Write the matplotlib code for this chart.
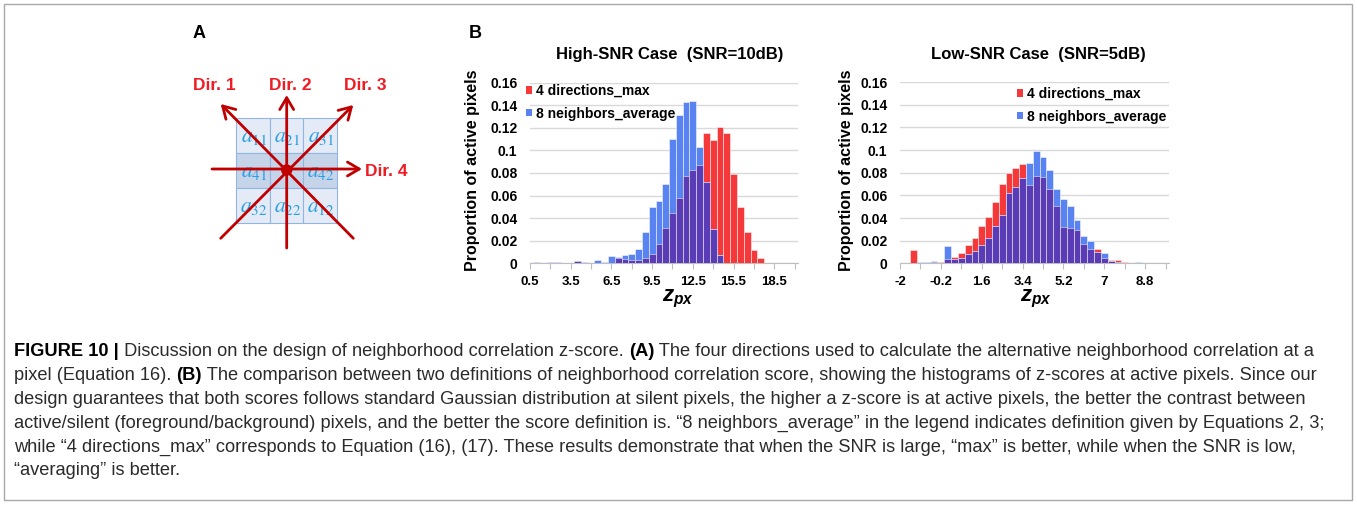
import numpy as np
import matplotlib
matplotlib.use("Agg")
import matplotlib.pyplot as plt
import matplotlib.font_manager as fm
from matplotlib.patches import Patch, Rectangle, FancyArrowPatch, Circle

# ======== data ========
# 40 histogram categories per panel, one value per category
hi_red = [0, 0, 0, 0, 0, 0, 0, 0.002, 0, 0,
          0, 0, 0, 0.0045, 0.0035, 0.003, 0.003, 0.0045, 0.008, 0.017,
          0.031, 0.045, 0.058, 0.077, 0.083, 0.087, 0.115, 0.109, 0.121, 0.115,
          0.079, 0.050, 0.028, 0.012, 0.0045, 0, 0, 0, 0, 0]
hi_blue = [0, 0.001, 0, 0.0008, 0.0008, 0, 0, 0.002, 0.001, 0,
           0.003, 0.0015, 0.0068, 0.0053, 0.0076, 0.008, 0.013, 0.028, 0.050, 0.055,
           0.070, 0.110, 0.131, 0.143, 0.144, 0.103, 0.072, 0.030, 0.0072, 0,
           0, 0, 0, 0, 0, 0, 0, 0, 0, 0]
lo_red = [0, 0, 0.0118, 0.0005, 0.0005, 0.0015, 0.001, 0.004, 0.006, 0.0095,
          0.016, 0.022, 0.033, 0.041, 0.054, 0.070, 0.080, 0.084, 0.088, 0.069,
          0.077, 0.076, 0.066, 0.051, 0.0325, 0.031, 0.029, 0.0174, 0.0127, 0.0124,
          0.0047, 0.003, 0.0027, 0.001, 0, 0, 0, 0, 0, 0]
lo_blue = [0, 0, 0, 0.001, 0.001, 0.002, 0, 0.015, 0.004, 0.005,
           0.008, 0.011, 0.016, 0.022, 0.033, 0.043, 0.062, 0.067, 0.075, 0.089,
           0.0995, 0.094, 0.082, 0.066, 0.057, 0.051, 0.038, 0.024, 0.020, 0.010,
           0.0095, 0.002, 0.0015, 0, 0, 0.001, 0, 0, 0, 0]

hi_xlabels = ["0.5", "3.5", "6.5", "9.5", "12.5", "15.5", "18.5"]
lo_xlabels = ["-2", "-0.2", "1.6", "3.4", "5.2", "7", "8.8"]
y_ticks = [0, 0.02, 0.04, 0.06, 0.08, 0.10, 0.12, 0.14, 0.16]
y_ticklabels = ["0", "0.02", "0.04", "0.06", "0.08", "0.1", "0.12", "0.14", "0.16"]
series_names = ["4 directions_max", "8 neighbors_average"]
titles = ["High-SNR Case  (SNR=10dB)", "Low-SNR Case  (SNR=5dB)"]
y_title = "Proportion of active pixels"

cell_labels = [[r"$a_{11}$", r"$a_{21}$", r"$a_{31}$"],
               [r"$a_{41}$", "", r"$a_{42}$"],
               [r"$a_{32}$", r"$a_{22}$", r"$a_{12}$"]]
dir_labels = ["Dir. 1", "Dir. 2", "Dir. 3", "Dir. 4"]

caption = [
    [("FIGURE 10 |", "bold"), (" Discussion on the design of neighborhood correlation z-score. ", "normal"),
     ("(A)", "bold"), (" The four directions used to calculate the alternative neighborhood correlation at a", "normal")],
    [("pixel (Equation 16). ", "normal"), ("(B)", "bold"),
     (" The comparison between two definitions of neighborhood correlation score, showing the histograms of z-scores at active pixels. Since our", "normal")],
    [("design guarantees that both scores follows standard Gaussian distribution at silent pixels, the higher a z-score is at active pixels, the better the contrast between", "normal")],
    [("active/silent (foreground/background) pixels, and the better the score definition is. \u201c8 neighbors_average\u201d in the legend indicates definition given by Equations 2, 3;", "normal")],
    [("while \u201c4 directions_max\u201d corresponds to Equation (16), (17). These results demonstrate that when the SNR is large, \u201cmax\u201d is better, while when the SNR is low,", "normal")],
    [("\u201caveraging\u201d is better.", "normal")],
]

# ======== style ========
RED = "#f5383a"
BLUE = "#5a83f2"
PURPLE = "#5a3db6"
DARKRED = "#c00000"
DIRRED = "#ee1c25"
CELLBLUE = "#2a9fe2"

SANS = "Liberation Sans"
names = {f.name for f in fm.fontManager.ttflist}
CAP_FONT = "Liberation Sans Narrow" if "Liberation Sans Narrow" in names else SANS

plt.rcParams["font.family"] = [SANS, "DejaVu Sans"]
plt.rcParams["mathtext.fontset"] = "custom"
plt.rcParams["mathtext.it"] = "Liberation Sans:italic:bold"
plt.rcParams["mathtext.rm"] = "Liberation Sans:bold"
plt.rcParams["mathtext.bf"] = "Liberation Sans:bold"

W, H = 1357, 505
fig = plt.figure(figsize=(W / 100, H / 100), dpi=100)
ax0 = fig.add_axes([0, 0, 1, 1])
ax0.set_xlim(0, W)
ax0.set_ylim(H, 0)
ax0.axis("off")

# outer frame
ax0.add_patch(Rectangle((4, 4), W - 9, H - 9, fill=False, ec="#a8a8a8", lw=1))


def px_axes(x0, y0, x1, y1):
    return fig.add_axes([x0 / W, 1 - y1 / H, (x1 - x0) / W, (y1 - y0) / H])


# ======== panel A: directions diagram ========
ax0.text(199, 33, "A", fontsize=13, fontweight="bold", ha="center", va="center")
xs = [236, 269.7, 303.3, 337]
ys = [118, 153, 188, 223]
for r in range(3):
    for c in range(3):
        fc = "#c6d4ea" if r == 1 else "#e4ebf6"
        ax0.add_patch(Rectangle((xs[c], ys[r]), xs[c + 1] - xs[c], ys[r + 1] - ys[r],
                                fc=fc, ec="#92b6e2", lw=0.8, zorder=1))
        if cell_labels[r][c]:
            ax0.text((xs[c] + xs[c + 1]) / 2 + 1, (ys[r] + ys[r + 1]) / 2 + 1, cell_labels[r][c],
                     fontsize=15.5, color=CELLBLUE, ha="center", va="center",
                     math_fontfamily="stix", zorder=2)

cx, cy = 286.7, 169
arrows = [((353.3, 238.3), (220.7, 104)),   # Dir. 1
          ((cx, 248), (cx, 95)),            # Dir. 2
          ((220.7, 238.3), (353.3, 105)),   # Dir. 3
          ((212, cy), (362, cy))]           # Dir. 4
for a, b in arrows:
    ax0.add_patch(FancyArrowPatch(a, b, arrowstyle="->,head_length=8.5,head_width=5",
                                  mutation_scale=1, lw=2.0, color=DARKRED,
                                  shrinkA=0, shrinkB=0, zorder=3))
ax0.add_patch(Circle((cx, cy + 1), 5, color=DARKRED, zorder=4))
for (x, y, ha), lab in zip([(214, 85, "center"), (290, 85, "center"),
                            (365, 85, "center"), (365, 171.5, "left")], dir_labels):
    ax0.text(x, y, lab, fontsize=12.5, fontweight="bold", color=DIRRED, ha=ha, va="center")

# ======== panel B: histograms ========
ax0.text(475, 33, "B", fontsize=13, fontweight="bold", ha="center", va="center")


def draw_hist(ax, red, blue, xlabels):
    red = np.asarray(red)
    blue = np.asarray(blue)
    idx = np.arange(len(red))
    both = np.minimum(red, blue)
    kw = dict(width=1.0, linewidth=0.7, edgecolor=(1, 1, 1, 0.5), zorder=3)
    for vals, col in [(red, RED), (blue, BLUE), (both, PURPLE)]:
        m = vals > 0
        ax.bar(idx[m], vals[m], color=col, **kw)
    ax.set_xlim(0, len(red) - 0.5)
    ax.set_ylim(0, 0.16)
    ax.set_yticks(y_ticks)
    ax.set_yticklabels(y_ticklabels)
    ticks = idx[::3]
    ax.set_xticks(ticks)
    lab_iter = iter(xlabels)
    ax.set_xticklabels([next(lab_iter, "") if t % 6 == 0 else "" for t in ticks])
    ax.grid(axis="y", color="#d9d9d9", lw=1, zorder=0)
    ax.set_axisbelow(True)
    for s in ["top", "right", "left"]:
        ax.spines[s].set_visible(False)
    ax.spines["bottom"].set_color("#bfbfbf")
    ax.tick_params(axis="y", length=0, pad=9, labelsize=10)
    ax.tick_params(axis="x", length=4, color="#bfbfbf", pad=5, labelsize=9.5)
    for t in ax.get_xticklabels() + ax.get_yticklabels():
        t.set_fontweight("bold")
    ax.patch.set_alpha(0)


ax_hi = px_axes(530, 82.7, 798, 263.3)
draw_hist(ax_hi, hi_red, hi_blue, hi_xlabels)
ax_lo = px_axes(900, 82.2, 1169, 263.3)
draw_hist(ax_lo, lo_red, lo_blue, lo_xlabels)

handles = [Patch(fc=RED, ec="none"), Patch(fc=BLUE, ec="none")]
panel_pos = [(ax_hi, (526, 84), 670, 472, 678), (ax_lo, (1017, 87), 1038, 847, 1036)]
for k, (ax, (lx, ly), tx, ylx, zx) in enumerate(panel_pos):
    ax.legend(handles, series_names, loc="upper left", bbox_to_anchor=(lx, ly),
              bbox_transform=ax0.transData, frameon=False, borderpad=0, borderaxespad=0,
              handlelength=0.45, handleheight=0.45, handletextpad=0.3, labelspacing=0.62,
              prop=dict(family=SANS, weight="bold", size=10))
    ax0.text(tx, 55, titles[k], fontsize=12, fontweight="bold", ha="center", va="center")
    ax0.text(ylx, 170, y_title, fontsize=11.5, fontweight="bold", rotation=90,
             ha="center", va="center")
    ax0.text(zx, 288, r"$z_{px}$", fontsize=16, ha="center", va="top")

# ======== caption ========
renderer = fig.canvas.get_renderer()


def text_w(s, prop):
    w, _, _ = renderer.get_text_width_height_descent("X" + s + "X", prop, ismath=False)
    w0, _, _ = renderer.get_text_width_height_descent("XX", prop, ismath=False)
    return w - w0


# scale caption font so the first line spans the same width as in the reference
base = 10.0
line_w = sum(text_w(s, fm.FontProperties(family=CAP_FONT, weight=wt, size=base)) for s, wt in caption[0])
cap_size = base * 1304 / line_w

line_y = [352, 376, 400, 423.5, 447, 470.5]
for runs, y in zip(caption, line_y):
    x = 14
    for s, wt in runs:
        prop = fm.FontProperties(family=CAP_FONT, weight=wt, size=cap_size)
        ax0.text(x, y, s, fontproperties=prop, color="#000000" if wt == "bold" else "#2b2b2b",
                 ha="left", va="center")
        x += text_w(s, prop)

fig.savefig("out.png", dpi=100)
